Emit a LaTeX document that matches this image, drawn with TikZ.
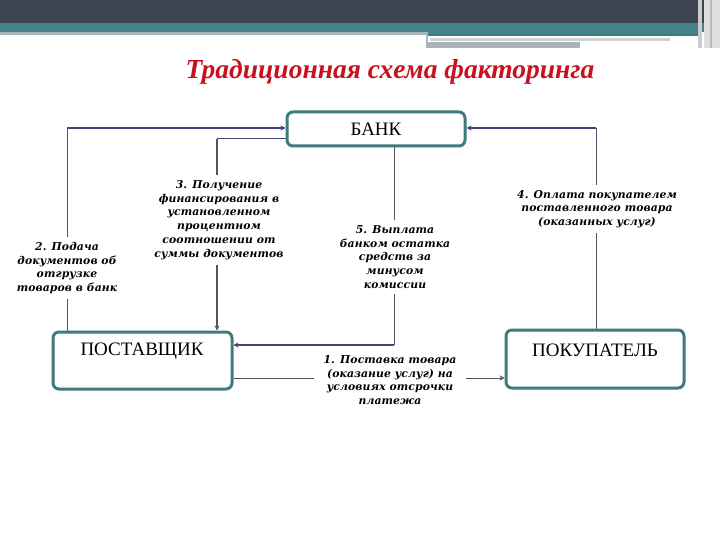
\documentclass[tikz,border=0pt]{standalone}
\usepackage{fontspec}
\setmainfont{Liberation Serif}
\newfontfamily\lblfont[LetterSpace=1]{DejaVu Serif}
\usetikzlibrary{arrows.meta}
\definecolor{hdrdark}{HTML}{3F4453}
\definecolor{hdrteal}{HTML}{45858A}
\definecolor{hdrgray}{HTML}{A9B5BB}
\definecolor{boxteal}{HTML}{3E7B7D}
\definecolor{titlered}{HTML}{C8101E}
\definecolor{lineind}{HTML}{45457A}
\definecolor{linegray}{HTML}{555560}
\tikzset{
  x=1pt, y=-1pt,
  party/.style={draw=boxteal, line width=3pt, rounded corners=6pt, fill=white, inner sep=0pt},
  partytext/.style={font=\fontsize{19}{22}\selectfont},
  lbl/.style={font=\lblfont\bfseries\itshape\fontsize{10.8}{13.8}\selectfont, align=center, fill=white, inner xsep=6pt, inner ysep=5pt},
  conn/.style={draw=linegray, line width=0.9pt},
  connind/.style={draw=lineind, line width=1.8pt},
  tip/.style={-{Stealth[length=5pt,width=5pt]}}
}
\begin{document}
\begin{tikzpicture}
\useasboundingbox (0,0) rectangle (720,540);
% header
\fill[hdrdark] (0,0) rectangle (720,23);
\fill[hdrteal] (0,23) rectangle (720,32);
\fill[hdrgray] (0,32) rectangle (426,35);
\fill[hdrteal] (426,32) rectangle (700,36);
\fill[boxteal] (426,34) rectangle (700,36);
\fill[hdrgray!60] (430,38) rectangle (670,41);
\fill[hdrgray] (426,42) rectangle (580,48);
\fill[hdrgray] (426,32) rectangle (428,48);
\fill[gray!40] (698,0) rectangle (702,48);
\fill[gray!25] (704,0) rectangle (720,48);
\fill[gray!55] (710,0) rectangle (712,48);
% title
\node (title) at (390,72) {\color{titlered}\bfseries\itshape\fontsize{27.5}{30}\selectfont Традиционная схема факторинга};
% boxes
\node[party, minimum width=178pt, minimum height=34pt] (bank) at (376,129) {};
\node[partytext] at (bank.center) {БАНК};
\node[party, minimum width=179pt, minimum height=57pt] (sup) at (142.5,360.5) {};
\node[partytext] at (142,351) {ПОСТАВЩИК};
\node[party, minimum width=178pt, minimum height=58pt] (buy) at (595,359) {};
\node[partytext] at (595,350) {ПОКУПАТЕЛЬ};
% connectors
\coordinate (c2a) at (67,128);
\coordinate (c3a) at (217,139);
\coordinate (c5a) at (394,345);
\coordinate (c4a) at (596,128);
\draw[conn] (sup.north -| c2a) -- (c2a);
\draw[connind, tip] (c2a) -- (bank.west |- c2a);
\draw[draw=lineind, line width=1pt] (bank.west |- c3a) -- (c3a);
\draw[conn, tip, line width=1.3pt] (c3a) -- (sup.north -| c3a);
\draw[conn] (bank.south -| c5a) -- (c5a);
\draw[connind, tip] (c5a) -- (sup.east |- c5a);
\draw[conn] (buy.north -| c4a) -- (c4a);
\draw[connind, tip] (c4a) -- (bank.east |- c4a);
\coordinate (c1a) at (232,378);
\draw[conn, tip] (sup.east |- c1a) -- (buy.west |- c1a);
% labels
\node[lbl] (l2) at (67,268) {2. Подача\\документов об\\отгрузке\\товаров в банк};
\node[lbl] (l3) at (219,220) {3. Получение\\финансирования в\\установленном\\процентном\\соотношении от\\суммы документов};
\node[lbl] (l5) at (395,257) {5. Выплата\\банком остатка\\средств за\\минусом\\комиссии};
\node[lbl] (l4) at (597,209) {4. Оплата покупателем\\поставленного товара\\(оказанных услуг)};
\node[lbl, inner xsep=10pt] (l1) at (390,380) {1. Поставка товара\\(оказание услуг) на\\условиях отсрочки\\платежа};
\end{tikzpicture}
\end{document}
